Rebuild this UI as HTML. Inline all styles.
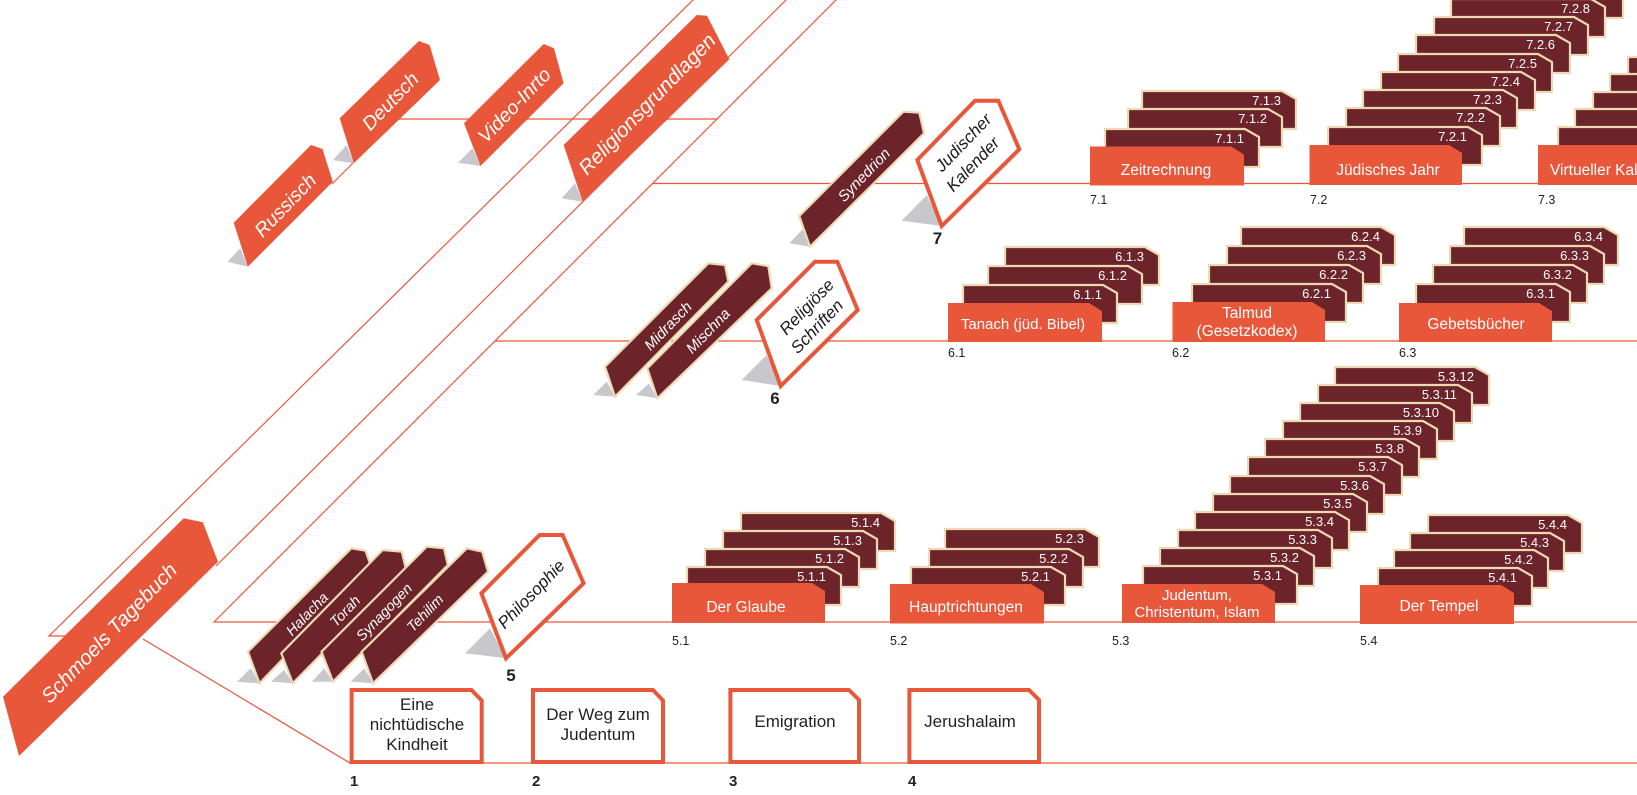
<!DOCTYPE html>
<html><head><meta charset="utf-8"><style>
html,body{margin:0;padding:0;background:#fff;}
svg{display:block;}
text{font-family:"Liberation Sans",sans-serif;}
.tw{fill:#fff;font-style:italic;text-anchor:middle;}
.tb{fill:#1a1a1a;font-style:italic;text-anchor:middle;}
.cl{fill:#fff;font-size:13px;text-anchor:end;}
.cat{fill:#fff;font-size:15.5px;text-anchor:middle;}
.box{fill:#231f20;font-size:17px;text-anchor:middle;}
.rl{fill:#222;font-size:12.5px;}
.num{fill:#222;font-size:15px;font-weight:bold;}
.o{fill:#E9573A;}
.m{fill:#6C2329;stroke:#ECDAB4;stroke-width:2.2;}
.s{fill:#C7C7CC;}
.w{fill:#fff;stroke:#E9573A;stroke-width:4;}
</style></head><body>
<svg width="1637" height="795" viewBox="0 0 1637 795" xmlns="http://www.w3.org/2000/svg">
<rect width="1637" height="795" fill="#fff"/>
<!-- connector lines -->
<g stroke="#E9573A" stroke-width="1.2" fill="none">
<polyline points="80,636 49,636 697,-4"/>
<line x1="216" y1="566" x2="790" y2="-4"/>
<polyline points="1637,622 214,622 840,-4"/>
<line x1="495" y1="341" x2="1637" y2="341"/>
<line x1="652" y1="183.5" x2="1637" y2="183.5"/>
<polyline points="332,184 397,119 717,119"/>
<polyline points="143,639 350,763 1637,763"/>
</g>

<!-- orange tags -->
<polygon class="s" points="240.2,248.3 227.6,261.7 247.8,266.7"/>
<polygon class="o" points="233.7,222.7 311,145 322.5,149 332.8,181.7 247.8,266.7"/>
<text class="tw" style="font-size:19.5px" transform="translate(285,205) rotate(-46)" y="7">Russisch</text>

<polygon class="s" points="346.6,145 333,160 353.8,163.3"/>
<polygon class="o" points="339.7,118.3 418.9,41 429.6,45 440,80 353.8,163.3"/>
<text class="tw" style="font-size:19.5px" transform="translate(390,101) rotate(-46)" y="7">Deutsch</text>

<polygon class="s" points="472.5,148.3 458,162.7 480.5,166"/>
<polygon class="o" points="464,123.3 543.7,44 554,48.3 563.6,83.3 480.5,166"/>
<text class="tw" style="font-size:19.5px" transform="translate(514,105) rotate(-46)" y="7">Video-Inrto</text>

<polygon class="s" points="575,183.3 561.6,198.3 582.7,201.7"/>
<polygon class="o" points="563.6,145 696.8,15 707,15.7 729.3,59.3 582.7,201.7"/>
<text class="tw" style="font-size:20.5px" transform="translate(647,104) rotate(-46)" y="7">Religionsgrundlagen</text>

<polygon class="o" points="3,696.7 183.7,518.3 202.8,522.3 218,561.7 19,756"/>
<text class="tw" style="font-size:20.5px" transform="translate(109,633) rotate(-46)" y="7">Schmoels Tagebuch</text>

<!-- maroon tags row 5 -->
<polygon class="s" points="250.7,668.3 237,681.7 259.5,683.3"/>
<polygon class="m" points="248,651.7 351.3,548.3 365.5,550.7 371.2,566.7 259.5,683.3"/>
<text class="tw" style="font-size:14.5px" transform="translate(307,614) rotate(-46)" y="5">Halacha</text>
<polygon class="s" points="284,669.9 271,681.7 292.8,683.3"/>
<polygon class="m" points="281.3,653.3 382.7,550 401.8,551.7 405.7,568.3 292.8,683.3"/>
<text class="tw" style="font-size:14.5px" transform="translate(345,611) rotate(-46)" y="5">Torah</text>
<polygon class="s" points="324.2,668.3 312,681.7 333,681.7"/>
<polygon class="m" points="321.5,651.7 426.7,546.7 444,548.3 447.8,565 333,681.7"/>
<text class="tw" style="font-size:14.5px" transform="translate(384,612) rotate(-46)" y="5">Synagogen</text>
<polygon class="s" points="364.4,668.3 350.5,681.7 373,683.3"/>
<polygon class="m" points="361.7,651.7 466.9,548.3 482.2,551.7 488,571.7 373,683.3"/>
<text class="tw" style="font-size:14.5px" transform="translate(425,613) rotate(-46)" y="5">Tehilim</text>

<!-- Philosophie -->
<polygon class="s" points="490,628.3 465,653.3 506,658.3"/>
<polygon class="w" points="481.4,593.3 539.6,535 562.6,535 583.6,583.3 506,658.3"/>
<text class="tb" style="font-size:17px" transform="translate(531,594) rotate(-46)" y="6">Philosophie</text>
<text x="511" y="681" class="num" style="font-size:17px;text-anchor:middle">5</text>

<!-- row 6 tags -->
<polygon class="s" points="606.7,381.7 593.3,395 615,396.7"/>
<polygon class="m" points="605,366.7 708.3,263.3 725,265 728.3,281.7 615,396.7"/>
<text class="tw" style="font-size:15px" transform="translate(668,326) rotate(-46)" y="5">Midrasch</text>
<polygon class="s" points="649,383.5 636,395 657.3,398.3"/>
<polygon class="m" points="647.3,368.3 751.7,263.3 768.3,266 771.7,288.3 657.3,398.3"/>
<text class="tw" style="font-size:15px" transform="translate(708,331) rotate(-46)" y="5">Mischna</text>

<polygon class="s" points="766.7,355 741.7,380 780.7,386"/>
<polygon class="w" points="756.7,320 815,261.7 837.3,261.7 857.7,310 780.7,386"/>
<g transform="translate(814,314) rotate(-46)">
<text class="tb" style="font-size:17px" x="0" y="-4.5">Religiöse</text>
<text class="tb" style="font-size:17px" x="-7" y="16.5">Schriften</text>
</g>
<text x="775" y="404" class="num" style="font-size:17px;text-anchor:middle">6</text>

<!-- row 7 tags -->
<polygon class="s" points="802.7,229.3 789.3,243.3 810,246.7"/>
<polygon class="m" points="799.3,216 903.3,111.7 919.3,112.7 924,133.3 810,246.7"/>
<text class="tw" style="font-size:15px" transform="translate(864,175) rotate(-46)" y="5">Synedrion</text>

<polygon class="s" points="926.7,195 901.7,220.7 941.7,226"/>
<polygon class="w" points="917.3,160 975,100.7 998.3,100.7 1019.3,149.3 941.7,226"/>
<g transform="translate(971,150) rotate(-46)">
<text class="tb" style="font-size:17px" x="0" y="-5">Judischer</text>
<text class="tb" style="font-size:17px" x="-9" y="17">Kalender</text>
</g>
<text x="937.5" y="244" class="num" style="font-size:17px;text-anchor:middle">7</text>

<!-- stacks row 5 -->
<path class="m" d="M741,513H881L895,521V551H741Z"/><text class="cl" x="880" y="527">5.1.4</text>
<path class="m" d="M723,531H863L877,539V569H723Z"/><text class="cl" x="862" y="545">5.1.3</text>
<path class="m" d="M705,549H845L859,557V587H705Z"/><text class="cl" x="844" y="563">5.1.2</text>
<path class="m" d="M687,567H827L841,575V605H687Z"/><text class="cl" x="826" y="581">5.1.1</text>

<path class="m" d="M945,529H1085L1099,537V567H945Z"/><text class="cl" x="1084" y="543">5.2.3</text>
<path class="m" d="M929,549H1069L1083,557V587H929Z"/><text class="cl" x="1068" y="563">5.2.2</text>
<path class="m" d="M911,567H1051L1065,575V605H911Z"/><text class="cl" x="1050" y="581">5.2.1</text>

<path class="m" d="M1335,367H1475L1489,375V405H1335Z"/><text class="cl" x="1474" y="381">5.3.12</text>
<path class="m" d="M1318,385H1458L1472,393V423H1318Z"/><text class="cl" x="1457" y="399">5.3.11</text>
<path class="m" d="M1300,403H1440L1454,411V441H1300Z"/><text class="cl" x="1439" y="417">5.3.10</text>
<path class="m" d="M1283,421H1423L1437,429V459H1283Z"/><text class="cl" x="1422" y="435">5.3.9</text>
<path class="m" d="M1265,439H1405L1419,447V477H1265Z"/><text class="cl" x="1404" y="453">5.3.8</text>
<path class="m" d="M1248,457H1388L1402,465V495H1248Z"/><text class="cl" x="1387" y="471">5.3.7</text>
<path class="m" d="M1230,476H1370L1384,484V514H1230Z"/><text class="cl" x="1369" y="490">5.3.6</text>
<path class="m" d="M1213,494H1353L1367,502V532H1213Z"/><text class="cl" x="1352" y="508">5.3.5</text>
<path class="m" d="M1195,512H1335L1349,520V550H1195Z"/><text class="cl" x="1334" y="526">5.3.4</text>
<path class="m" d="M1178,530H1318L1332,538V568H1178Z"/><text class="cl" x="1317" y="544">5.3.3</text>
<path class="m" d="M1160,548H1300L1314,556V586H1160Z"/><text class="cl" x="1299" y="562">5.3.2</text>
<path class="m" d="M1143,566H1283L1297,574V604H1143Z"/><text class="cl" x="1282" y="580">5.3.1</text>

<path class="m" d="M1428,515H1568L1582,523V553H1428Z"/><text class="cl" x="1567" y="529">5.4.4</text>
<path class="m" d="M1410,533H1550L1564,541V571H1410Z"/><text class="cl" x="1549" y="547">5.4.3</text>
<path class="m" d="M1394,550H1534L1548,558V588H1394Z"/><text class="cl" x="1533" y="564">5.4.2</text>
<path class="m" d="M1378,568H1518L1532,576V606H1378Z"/><text class="cl" x="1517" y="582">5.4.1</text>

<!-- stacks row 6 -->
<path class="m" d="M1005,247H1145L1159,255V285H1005Z"/><text class="cl" x="1144" y="261">6.1.3</text>
<path class="m" d="M988,266H1128L1142,274V304H988Z"/><text class="cl" x="1127" y="280">6.1.2</text>
<path class="m" d="M963,285H1103L1117,293V323H963Z"/><text class="cl" x="1102" y="299">6.1.1</text>

<path class="m" d="M1241,227H1381L1395,235V265H1241Z"/><text class="cl" x="1380" y="241">6.2.4</text>
<path class="m" d="M1227,246H1367L1381,254V284H1227Z"/><text class="cl" x="1366" y="260">6.2.3</text>
<path class="m" d="M1209,265H1349L1363,273V303H1209Z"/><text class="cl" x="1348" y="279">6.2.2</text>
<path class="m" d="M1192,284H1332L1346,292V322H1192Z"/><text class="cl" x="1331" y="298">6.2.1</text>

<path class="m" d="M1464,227H1604L1618,235V265H1464Z"/><text class="cl" x="1603" y="241">6.3.4</text>
<path class="m" d="M1450,246H1590L1604,254V284H1450Z"/><text class="cl" x="1589" y="260">6.3.3</text>
<path class="m" d="M1433,265H1573L1587,273V303H1433Z"/><text class="cl" x="1572" y="279">6.3.2</text>
<path class="m" d="M1416,284H1556L1570,292V322H1416Z"/><text class="cl" x="1555" y="298">6.3.1</text>

<!-- stacks row 7 -->
<path class="m" d="M1142,91H1282L1296,99V129H1142Z"/><text class="cl" x="1281" y="105">7.1.3</text>
<path class="m" d="M1128,109H1268L1282,117V147H1128Z"/><text class="cl" x="1267" y="123">7.1.2</text>
<path class="m" d="M1105,129H1245L1259,137V167H1105Z"/><text class="cl" x="1244" y="143">7.1.1</text>

<path class="m" d="M1469,-20H1609L1623,-12V18H1469Z"/>
<path class="m" d="M1451,-1H1591L1605,7V37H1451Z"/><text class="cl" x="1590" y="13">7.2.8</text>
<path class="m" d="M1434,17H1574L1588,25V55H1434Z"/><text class="cl" x="1573" y="31">7.2.7</text>
<path class="m" d="M1416,35H1556L1570,43V73H1416Z"/><text class="cl" x="1555" y="49">7.2.6</text>
<path class="m" d="M1398,54H1538L1552,62V92H1398Z"/><text class="cl" x="1537" y="68">7.2.5</text>
<path class="m" d="M1381,72H1521L1535,80V110H1381Z"/><text class="cl" x="1520" y="86">7.2.4</text>
<path class="m" d="M1363,90H1503L1517,98V128H1363Z"/><text class="cl" x="1502" y="104">7.2.3</text>
<path class="m" d="M1346,108H1486L1500,116V146H1346Z"/><text class="cl" x="1485" y="122">7.2.2</text>
<path class="m" d="M1328,127H1468L1482,135V165H1328Z"/><text class="cl" x="1467" y="141">7.2.1</text>

<path class="m" d="M1628,57H1768L1782,65V95H1628Z"/>
<path class="m" d="M1610,74H1750L1764,82V112H1610Z"/>
<path class="m" d="M1593,92H1733L1747,100V130H1593Z"/>
<path class="m" d="M1575,109H1715L1729,117V147H1575Z"/>
<path class="m" d="M1558,127H1698L1712,135V165H1558Z"/>

<!-- category boxes -->
<path class="o" d="M1090,146.5H1231L1244,154.5V185.5H1090Z"/><text class="cat" x="1166" y="175">Zeitrechnung</text>
<path class="o" d="M1309.5,145H1449L1462,153V185H1309.5Z"/><text class="cat" x="1388" y="175">Jüdisches Jahr</text>
<path class="o" d="M1538,145H1640V185H1538Z"/><text class="cat" x="1550" y="175" style="text-anchor:start">Virtueller Kalender</text>

<path class="o" d="M948,303H1089L1102,311V342H948Z"/><text class="cat" x="1023" y="329" style="font-size:15px">Tanach (jüd. Bibel)</text>
<path class="o" d="M1172.5,302H1312L1325,310V342H1172.5Z"/><text class="cat" x="1247" y="318">Talmud</text><text class="cat" x="1247" y="336">(Gesetzkodex)</text>
<path class="o" d="M1399,303H1539L1552,311V342H1399Z"/><text class="cat" x="1476" y="329">Gebetsbücher</text>

<path class="o" d="M672,583H812L825,591V623H672Z"/><text class="cat" x="746" y="612">Der Glaube</text>
<path class="o" d="M890,584H1031L1044,592V623.5H890Z"/><text class="cat" x="966" y="612">Hauptrichtungen</text>
<path class="o" d="M1122,584H1262L1275,592V623H1122Z"/><text class="cat" x="1197" y="600" style="font-size:15px">Judentum,</text><text class="cat" x="1197" y="617" style="font-size:15px">Christentum, Islam</text>
<path class="o" d="M1360,585H1501L1514,593V624H1360Z"/><text class="cat" x="1439" y="611">Der Tempel</text>

<!-- row labels -->
<text class="rl" x="1090" y="204">7.1</text>
<text class="rl" x="1310" y="204">7.2</text>
<text class="rl" x="1538" y="204">7.3</text>
<text class="rl" x="948" y="357">6.1</text>
<text class="rl" x="1172" y="357">6.2</text>
<text class="rl" x="1399" y="357">6.3</text>
<text class="rl" x="672" y="645">5.1</text>
<text class="rl" x="890" y="645">5.2</text>
<text class="rl" x="1112" y="645">5.3</text>
<text class="rl" x="1360" y="645">5.4</text>

<!-- bottom boxes -->
<path class="w" d="M351.6,690H471.5L481.7,700.5V762H351.6Z"/>
<text class="box" x="417" y="710">Eine</text>
<text class="box" x="417" y="730">nichtüdische</text>
<text class="box" x="417" y="750">Kindheit</text>
<path class="w" d="M533,690H653L663,700.5V762H533Z"/>
<text class="box" x="598" y="720">Der Weg zum</text>
<text class="box" x="598" y="740">Judentum</text>
<path class="w" d="M730.4,690H849L859,700V762H730.4Z"/>
<text class="box" x="795" y="727">Emigration</text>
<path class="w" d="M909.4,690H1029L1039,700V762H909.4Z"/>
<text class="box" x="970" y="727">Jerushalaim</text>

<text class="num" x="350" y="786">1</text>
<text class="num" x="532" y="786">2</text>
<text class="num" x="729" y="786">3</text>
<text class="num" x="908" y="786">4</text>
</svg>
</body></html>
